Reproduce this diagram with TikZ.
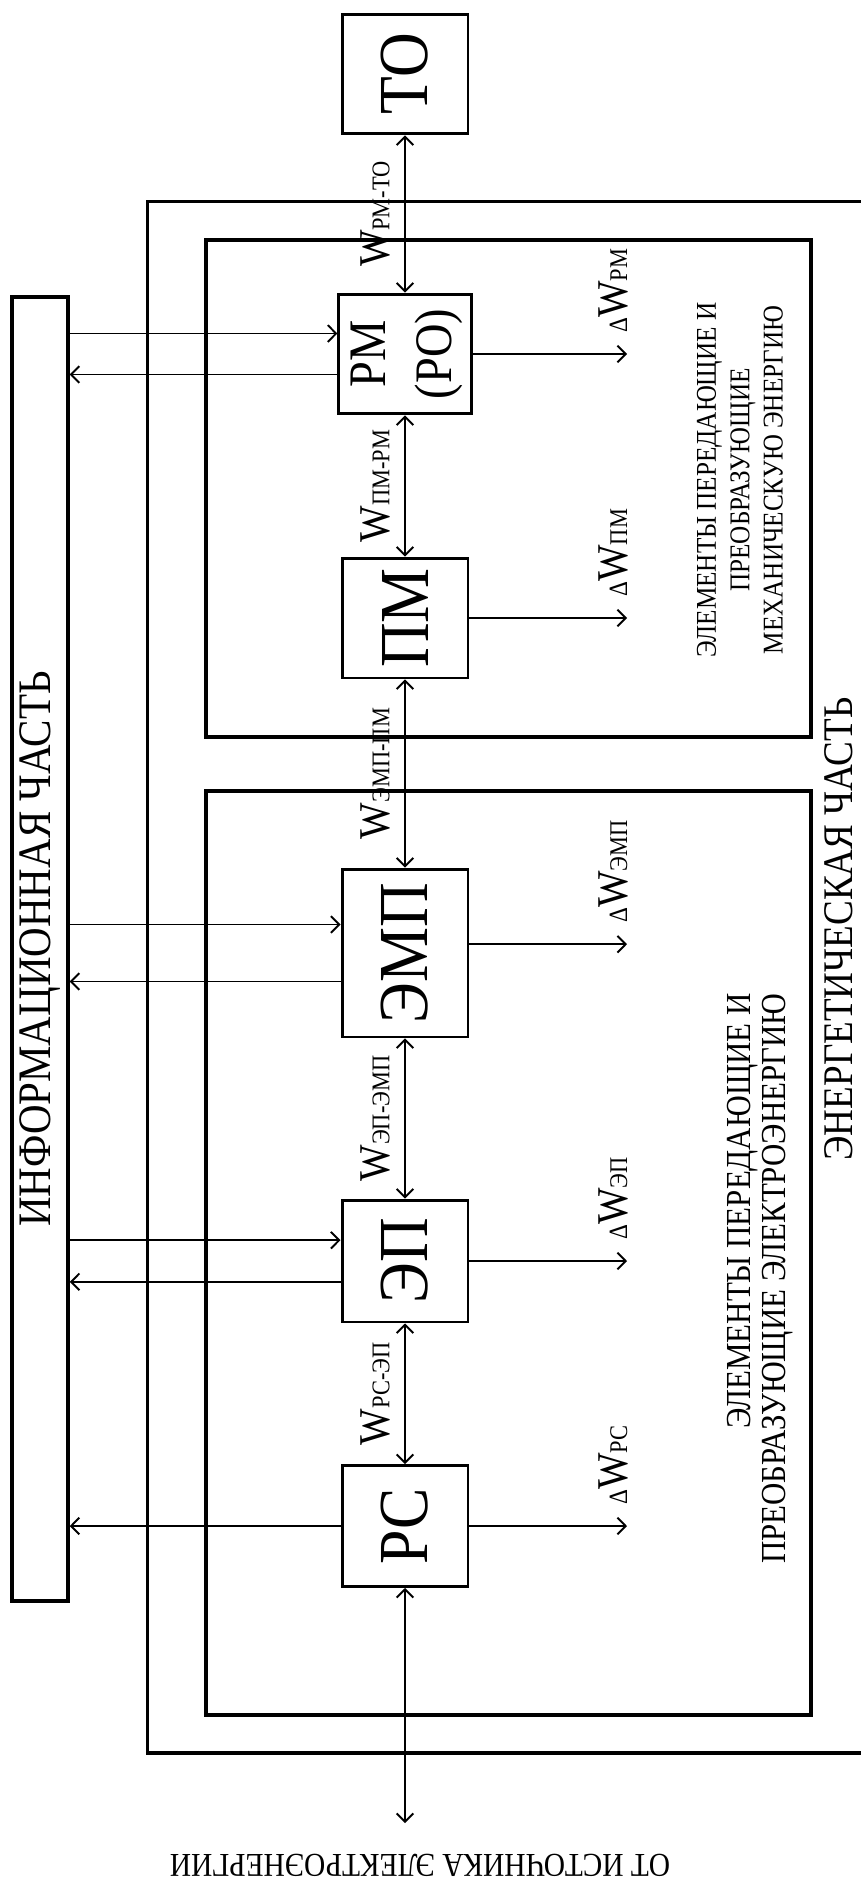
\documentclass[tikz,border=0pt]{standalone}
\usepackage{fontspec}
\setmainfont{Liberation Serif}[FakeStretch=0.88]
\usetikzlibrary{arrows.meta,calc}
\newcommand{\wsub}[1]{{\fontsize{14.5}{15}\selectfont #1}}
\newcommand{\dw}[1]{{\fontsize{15}{16}\selectfont Δ}W\wsub{#1}}
\begin{document}
\begin{tikzpicture}[x=0.02cm, y=-0.02cm,
  blk/.style={draw, line width=1.7pt, minimum width=2.52cm, minimum height=2.4cm, inner sep=0pt, font=\fontsize{40}{44}\selectfont},
  frame/.style={line width=2pt},
  link/.style={line width=1.1pt, {Straight Barb[length=4.7pt,width=9.5pt]}-{Straight Barb[length=4.7pt,width=9.5pt]}},
  sig/.style={line width=1.1pt, -{Straight Barb[length=4.7pt,width=9.5pt]}},
  wlbl/.style={rotate=90, anchor=south, inner xsep=0pt, inner ysep=8pt, font=\fontsize{25}{27}\selectfont},
  loss/.style={rotate=90, anchor=base west, inner sep=0pt, font=\fontsize{25}{27}\selectfont},
  capt/.style={rotate=90, inner sep=0pt}]
\useasboundingbox (0,0) rectangle (861,1879);
% energy part frames
\draw[frame] (147.5,201.5) rectangle (900,1753);
\draw[frame] (206,240) rectangle (811,737);
\draw[frame] (206,791) rectangle (811,1715);
% information part
\node[draw, line width=2pt, minimum width=1.12cm, minimum height=26.08cm, inner sep=0pt] (info) at (40,949)
  {\rotatebox{90}{\fontsize{26.5}{30}\selectfont ИНФОРМАЦИОННАЯ ЧАСТЬ}};
% blocks
\node[blk] (to) at (405,74) {\rotatebox{90}{ТО}};
\node[blk] (rm) at (405,354) {\rotatebox{90}{\fontsize{30}{37.6}\selectfont\begin{tabular}{@{}c@{}}РМ\\(РО)\end{tabular}}};
\node[blk] (pm) at (405,618) {\rotatebox{90}{ПМ}};
\node[blk, minimum height=3.36cm] (emp) at (405,953) {\rotatebox{90}{ЭМП}};
\node[blk, minimum height=2.44cm] (ep) at (405,1261) {\rotatebox{90}{ЭП}};
\node[blk, minimum height=2.42cm] (rs) at (405,1526) {\rotatebox{90}{РС}};
\coordinate (src) at (405,1823);
\coordinate (lossend) at (627,0);
% energy flow
\draw[link] (to) -- node[wlbl] {W\wsub{РМ-ТО}} (rm);
\draw[link] (rm) -- node[wlbl] {W\wsub{ПМ-РМ}} (pm);
\draw[link] (pm) -- node[wlbl] {W\wsub{ЭМП-ПМ}} (emp);
\draw[link] (emp) -- node[wlbl] {W\wsub{ЭП-ЭМП}} (ep);
\draw[link] (ep) -- node[wlbl] {W\wsub{РС-ЭП}} (rs);
\draw[link] (rs) -- (src);
% losses
\coordinate (rmx) at (rm.east -| lossend);
\coordinate (pmx) at (pm.east -| lossend);
\coordinate (empa) at ([yshift=5pt]emp.east);
\coordinate (empx) at (empa -| lossend);
\coordinate (epx) at (ep.east -| lossend);
\coordinate (rsx) at (rs.east -| lossend);
\draw[sig] (rm) -- (rmx);
\draw[sig] (pm) -- (pmx);
\draw[sig] (empa) -- (empx);
\draw[sig] (ep) -- (epx);
\draw[sig] (rs) -- (rsx);
\node[loss] (drm) at ([yshift=12pt]rmx) {\dw{РМ}};
\node[loss] (dpm) at ([yshift=12pt]pmx) {\dw{ПМ}};
\node[loss] (demp) at ([yshift=12pt]empx) {\dw{ЭМП}};
\node[loss] (dep) at ([yshift=12pt]epx) {\dw{ЭП}};
\node[loss] (drs) at ([yshift=12pt]rsx) {\dw{РС}};
% control links
\foreach \b in {rm,emp,ep} {
  \coordinate (\b-i) at ($(\b.north west)!1/3!(\b.south west)$);
  \coordinate (\b-o) at ($(\b.north west)!2/3!(\b.south west)$);
  \draw[sig] (info.east |- \b-i) -- (\b-i);
  \draw[sig] (\b-o) -- (info.east |- \b-o);
}
\draw[sig] (rs) -- (info.east |- rs);
% captions
\node[capt, align=center, font=\fontsize{16.3}{19}\selectfont] (mech) at (740,480)
  {ЭЛЕМЕНТЫ ПЕРЕДАЮЩИЕ И\\ПРЕОБРАЗУЮЩИЕ\\МЕХАНИЧЕСКУЮ ЭНЕРГИЮ};
\node[capt, align=right, anchor=east, font=\fontsize{20}{19.5}\selectfont] (elec) at (760,993)
  {ЭЛЕМЕНТЫ ПЕРЕДАЮЩИЕ И\\ПРЕОБРАЗУЮЩИЕ ЭЛЕКТРОЭНЕРГИЮ};
\node[capt, font=\fontsize{24}{28}\selectfont] (enlbl) at (839,929) {ЭНЕРГЕТИЧЕСКАЯ ЧАСТЬ};
\node[rotate=180, inner sep=0pt, font=\fontsize{19}{22}\selectfont] (srclbl) at (420,1865) {ОТ ИСТОЧНИКА ЭЛЕКТРОЭНЕРГИИ};
\end{tikzpicture}
\end{document}
